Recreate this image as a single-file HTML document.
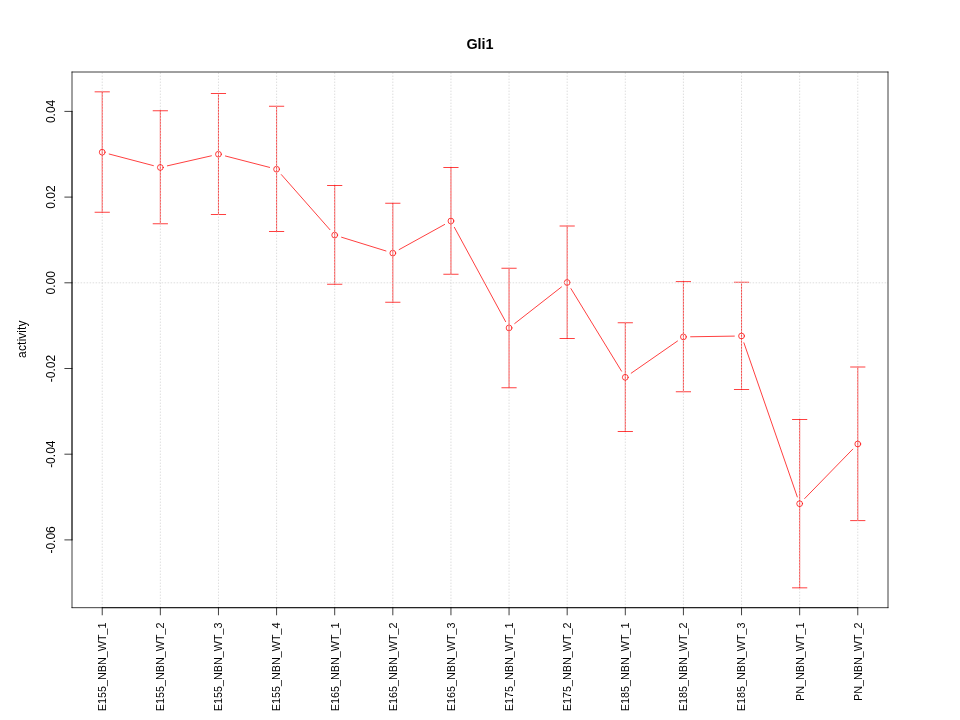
<!DOCTYPE html>
<html lang="en"><head><meta charset="utf-8"><title>Gli1</title>
<style>html,body{margin:0;padding:0;background:#fff;}body{width:960px;height:720px;overflow:hidden;}svg{display:block;will-change:transform;}text{font-family:"Liberation Sans",Arial,Helvetica,sans-serif;fill:#000;font-variant-ligatures:none;font-feature-settings:"liga" 0,"clig" 0;}</style></head><body>
<svg width="960" height="720" viewBox="0 0 960 720">
<rect x="0" y="0" width="960" height="720" fill="#ffffff"/>
<g stroke="#ff0000" stroke-width="0.75" fill="none" stroke-linecap="round">
<line x1="109.19" y1="154.03" x2="153.38" y2="165.62"/>
<line x1="167.36" y1="165.85" x2="211.44" y2="155.80"/>
<line x1="225.43" y1="156.00" x2="269.61" y2="167.40"/>
<line x1="281.34" y1="174.60" x2="329.94" y2="229.70"/>
<line x1="341.58" y1="237.23" x2="385.94" y2="250.97"/>
<line x1="399.12" y1="249.62" x2="444.64" y2="224.48"/>
<line x1="454.38" y1="227.33" x2="505.62" y2="321.62"/>
<line x1="514.73" y1="323.51" x2="561.51" y2="286.94"/>
<line x1="570.94" y1="288.64" x2="621.54" y2="371.16"/>
<line x1="631.21" y1="373.19" x2="677.51" y2="341.01"/>
<line x1="690.62" y1="336.79" x2="734.34" y2="336.11"/>
<line x1="743.90" y1="342.80" x2="797.30" y2="496.90"/>
<line x1="804.68" y1="498.54" x2="852.76" y2="449.16"/>
<circle cx="102.22" cy="152.20" r="2.9"/>
<line x1="102.22" y1="91.84" x2="102.22" y2="212.25"/>
<line x1="95.02" y1="91.84" x2="109.42" y2="91.84"/>
<line x1="95.02" y1="212.25" x2="109.42" y2="212.25"/>
<circle cx="160.34" cy="167.45" r="2.9"/>
<line x1="160.34" y1="110.75" x2="160.34" y2="223.75"/>
<line x1="153.14" y1="110.75" x2="167.54" y2="110.75"/>
<line x1="153.14" y1="223.75" x2="167.54" y2="223.75"/>
<circle cx="218.46" cy="154.20" r="2.9"/>
<line x1="218.46" y1="93.50" x2="218.46" y2="214.50"/>
<line x1="211.26" y1="93.50" x2="225.66" y2="93.50"/>
<line x1="211.26" y1="214.50" x2="225.66" y2="214.50"/>
<circle cx="276.58" cy="169.20" r="2.9"/>
<line x1="276.58" y1="106.25" x2="276.58" y2="231.50"/>
<line x1="269.38" y1="106.25" x2="283.78" y2="106.25"/>
<line x1="269.38" y1="231.50" x2="283.78" y2="231.50"/>
<circle cx="334.70" cy="235.10" r="2.9"/>
<line x1="334.70" y1="185.50" x2="334.70" y2="284.25"/>
<line x1="327.50" y1="185.50" x2="341.90" y2="185.50"/>
<line x1="327.50" y1="284.25" x2="341.90" y2="284.25"/>
<circle cx="392.82" cy="253.10" r="2.9"/>
<line x1="392.82" y1="203.25" x2="392.82" y2="302.25"/>
<line x1="385.62" y1="203.25" x2="400.02" y2="203.25"/>
<line x1="385.62" y1="302.25" x2="400.02" y2="302.25"/>
<circle cx="450.94" cy="221.00" r="2.9"/>
<line x1="450.94" y1="167.50" x2="450.94" y2="274.25"/>
<line x1="443.74" y1="167.50" x2="458.14" y2="167.50"/>
<line x1="443.74" y1="274.25" x2="458.14" y2="274.25"/>
<circle cx="509.06" cy="327.95" r="2.9"/>
<line x1="509.06" y1="268.25" x2="509.06" y2="387.75"/>
<line x1="501.86" y1="268.25" x2="516.26" y2="268.25"/>
<line x1="501.86" y1="387.75" x2="516.26" y2="387.75"/>
<circle cx="567.18" cy="282.50" r="2.9"/>
<line x1="567.18" y1="226.00" x2="567.18" y2="338.50"/>
<line x1="559.98" y1="226.00" x2="574.38" y2="226.00"/>
<line x1="559.98" y1="338.50" x2="574.38" y2="338.50"/>
<circle cx="625.30" cy="377.30" r="2.9"/>
<line x1="625.30" y1="322.75" x2="625.30" y2="431.50"/>
<line x1="618.10" y1="322.75" x2="632.50" y2="322.75"/>
<line x1="618.10" y1="431.50" x2="632.50" y2="431.50"/>
<circle cx="683.42" cy="336.90" r="2.9"/>
<line x1="683.42" y1="281.60" x2="683.42" y2="391.75"/>
<line x1="676.22" y1="281.60" x2="690.62" y2="281.60"/>
<line x1="676.22" y1="391.75" x2="690.62" y2="391.75"/>
<circle cx="741.54" cy="336.00" r="2.9"/>
<line x1="741.54" y1="282.25" x2="741.54" y2="389.50"/>
<line x1="734.34" y1="282.25" x2="748.74" y2="282.25"/>
<line x1="734.34" y1="389.50" x2="748.74" y2="389.50"/>
<circle cx="799.66" cy="503.70" r="2.9"/>
<line x1="799.66" y1="419.50" x2="799.66" y2="587.84"/>
<line x1="792.46" y1="419.50" x2="806.86" y2="419.50"/>
<line x1="792.46" y1="587.84" x2="806.86" y2="587.84"/>
<circle cx="857.78" cy="444.00" r="2.9"/>
<line x1="857.78" y1="367.00" x2="857.78" y2="520.60"/>
<line x1="850.58" y1="367.00" x2="864.98" y2="367.00"/>
<line x1="850.58" y1="520.60" x2="864.98" y2="520.60"/>
</g>
<g stroke="#d3d3d3" stroke-width="0.75" fill="none" stroke-dasharray="1.5 1.5" stroke-dashoffset="0.375">
<line x1="102.22" y1="607.68" x2="102.22" y2="72.0"/>
<line x1="160.34" y1="607.68" x2="160.34" y2="72.0"/>
<line x1="218.46" y1="607.68" x2="218.46" y2="72.0"/>
<line x1="276.58" y1="607.68" x2="276.58" y2="72.0"/>
<line x1="334.70" y1="607.68" x2="334.70" y2="72.0"/>
<line x1="392.82" y1="607.68" x2="392.82" y2="72.0"/>
<line x1="450.94" y1="607.68" x2="450.94" y2="72.0"/>
<line x1="509.06" y1="607.68" x2="509.06" y2="72.0"/>
<line x1="567.18" y1="607.68" x2="567.18" y2="72.0"/>
<line x1="625.30" y1="607.68" x2="625.30" y2="72.0"/>
<line x1="683.42" y1="607.68" x2="683.42" y2="72.0"/>
<line x1="741.54" y1="607.68" x2="741.54" y2="72.0"/>
<line x1="799.66" y1="607.68" x2="799.66" y2="72.0"/>
<line x1="857.78" y1="607.68" x2="857.78" y2="72.0"/>
<line x1="72.0" y1="282.8" x2="888.0" y2="282.8"/>
</g>
<g stroke="#000000" stroke-width="0.75" fill="none" stroke-linecap="round" stroke-linejoin="round">
<line x1="72.0" y1="72.0" x2="888.0" y2="72.0"/>
<line x1="888.0" y1="72.0" x2="888.0" y2="607.68"/>
<line x1="888.0" y1="607.68" x2="72.0" y2="607.68"/>
<line x1="72.0" y1="607.68" x2="72.0" y2="72.0"/>
<line x1="102.22" y1="607.68" x2="857.78" y2="607.68"/>
<line x1="102.22" y1="607.68" x2="102.22" y2="614.88"/>
<line x1="160.34" y1="607.68" x2="160.34" y2="614.88"/>
<line x1="218.46" y1="607.68" x2="218.46" y2="614.88"/>
<line x1="276.58" y1="607.68" x2="276.58" y2="614.88"/>
<line x1="334.70" y1="607.68" x2="334.70" y2="614.88"/>
<line x1="392.82" y1="607.68" x2="392.82" y2="614.88"/>
<line x1="450.94" y1="607.68" x2="450.94" y2="614.88"/>
<line x1="509.06" y1="607.68" x2="509.06" y2="614.88"/>
<line x1="567.18" y1="607.68" x2="567.18" y2="614.88"/>
<line x1="625.30" y1="607.68" x2="625.30" y2="614.88"/>
<line x1="683.42" y1="607.68" x2="683.42" y2="614.88"/>
<line x1="741.54" y1="607.68" x2="741.54" y2="614.88"/>
<line x1="799.66" y1="607.68" x2="799.66" y2="614.88"/>
<line x1="857.78" y1="607.68" x2="857.78" y2="614.88"/>
<line x1="72.0" y1="539.9" x2="72.0" y2="111.4"/>
<line x1="72.0" y1="111.4" x2="64.80" y2="111.4"/>
<line x1="72.0" y1="197.1" x2="64.80" y2="197.1"/>
<line x1="72.0" y1="282.8" x2="64.80" y2="282.8"/>
<line x1="72.0" y1="368.5" x2="64.80" y2="368.5"/>
<line x1="72.0" y1="454.2" x2="64.80" y2="454.2"/>
<line x1="72.0" y1="539.9" x2="64.80" y2="539.9"/>
</g>
<text x="480" y="48.8" text-anchor="middle" font-size="14.4" font-weight="bold">Gli1</text>
<text transform="translate(26.4,339.24) rotate(-90)" text-anchor="middle" font-size="12" dx="0 0.2 0 0.3 0 0 0.1 0">activity</text>
<text transform="translate(55.4,111.4) rotate(-90)" text-anchor="middle" font-size="12">0.04</text>
<text transform="translate(55.4,197.1) rotate(-90)" text-anchor="middle" font-size="12">0.02</text>
<text transform="translate(55.4,282.8) rotate(-90)" text-anchor="middle" font-size="12">0.00</text>
<text transform="translate(55.4,368.5) rotate(-90)" text-anchor="middle" font-size="12">-0.02</text>
<text transform="translate(55.4,454.2) rotate(-90)" text-anchor="middle" font-size="12">-0.04</text>
<text transform="translate(55.4,539.9) rotate(-90)" text-anchor="middle" font-size="12">-0.06</text>
<text transform="translate(106.10,622.38) rotate(-90)" text-anchor="end" font-size="10.8">E155_NBN_WT_1</text>
<text transform="translate(164.10,622.38) rotate(-90)" text-anchor="end" font-size="10.8">E155_NBN_WT_2</text>
<text transform="translate(222.10,622.38) rotate(-90)" text-anchor="end" font-size="10.8">E155_NBN_WT_3</text>
<text transform="translate(280.10,622.38) rotate(-90)" text-anchor="end" font-size="10.8">E155_NBN_WT_4</text>
<text transform="translate(339.10,622.38) rotate(-90)" text-anchor="end" font-size="10.8">E165_NBN_WT_1</text>
<text transform="translate(397.10,622.38) rotate(-90)" text-anchor="end" font-size="10.8">E165_NBN_WT_2</text>
<text transform="translate(455.10,622.38) rotate(-90)" text-anchor="end" font-size="10.8">E165_NBN_WT_3</text>
<text transform="translate(513.10,622.38) rotate(-90)" text-anchor="end" font-size="10.8">E175_NBN_WT_1</text>
<text transform="translate(571.10,622.38) rotate(-90)" text-anchor="end" font-size="10.8">E175_NBN_WT_2</text>
<text transform="translate(629.10,622.38) rotate(-90)" text-anchor="end" font-size="10.8">E185_NBN_WT_1</text>
<text transform="translate(687.10,622.38) rotate(-90)" text-anchor="end" font-size="10.8">E185_NBN_WT_2</text>
<text transform="translate(745.10,622.38) rotate(-90)" text-anchor="end" font-size="10.8">E185_NBN_WT_3</text>
<text transform="translate(804.10,622.38) rotate(-90)" text-anchor="end" font-size="10.8">PN_NBN_WT_1</text>
<text transform="translate(862.10,622.38) rotate(-90)" text-anchor="end" font-size="10.8">PN_NBN_WT_2</text>
</svg></body></html>
